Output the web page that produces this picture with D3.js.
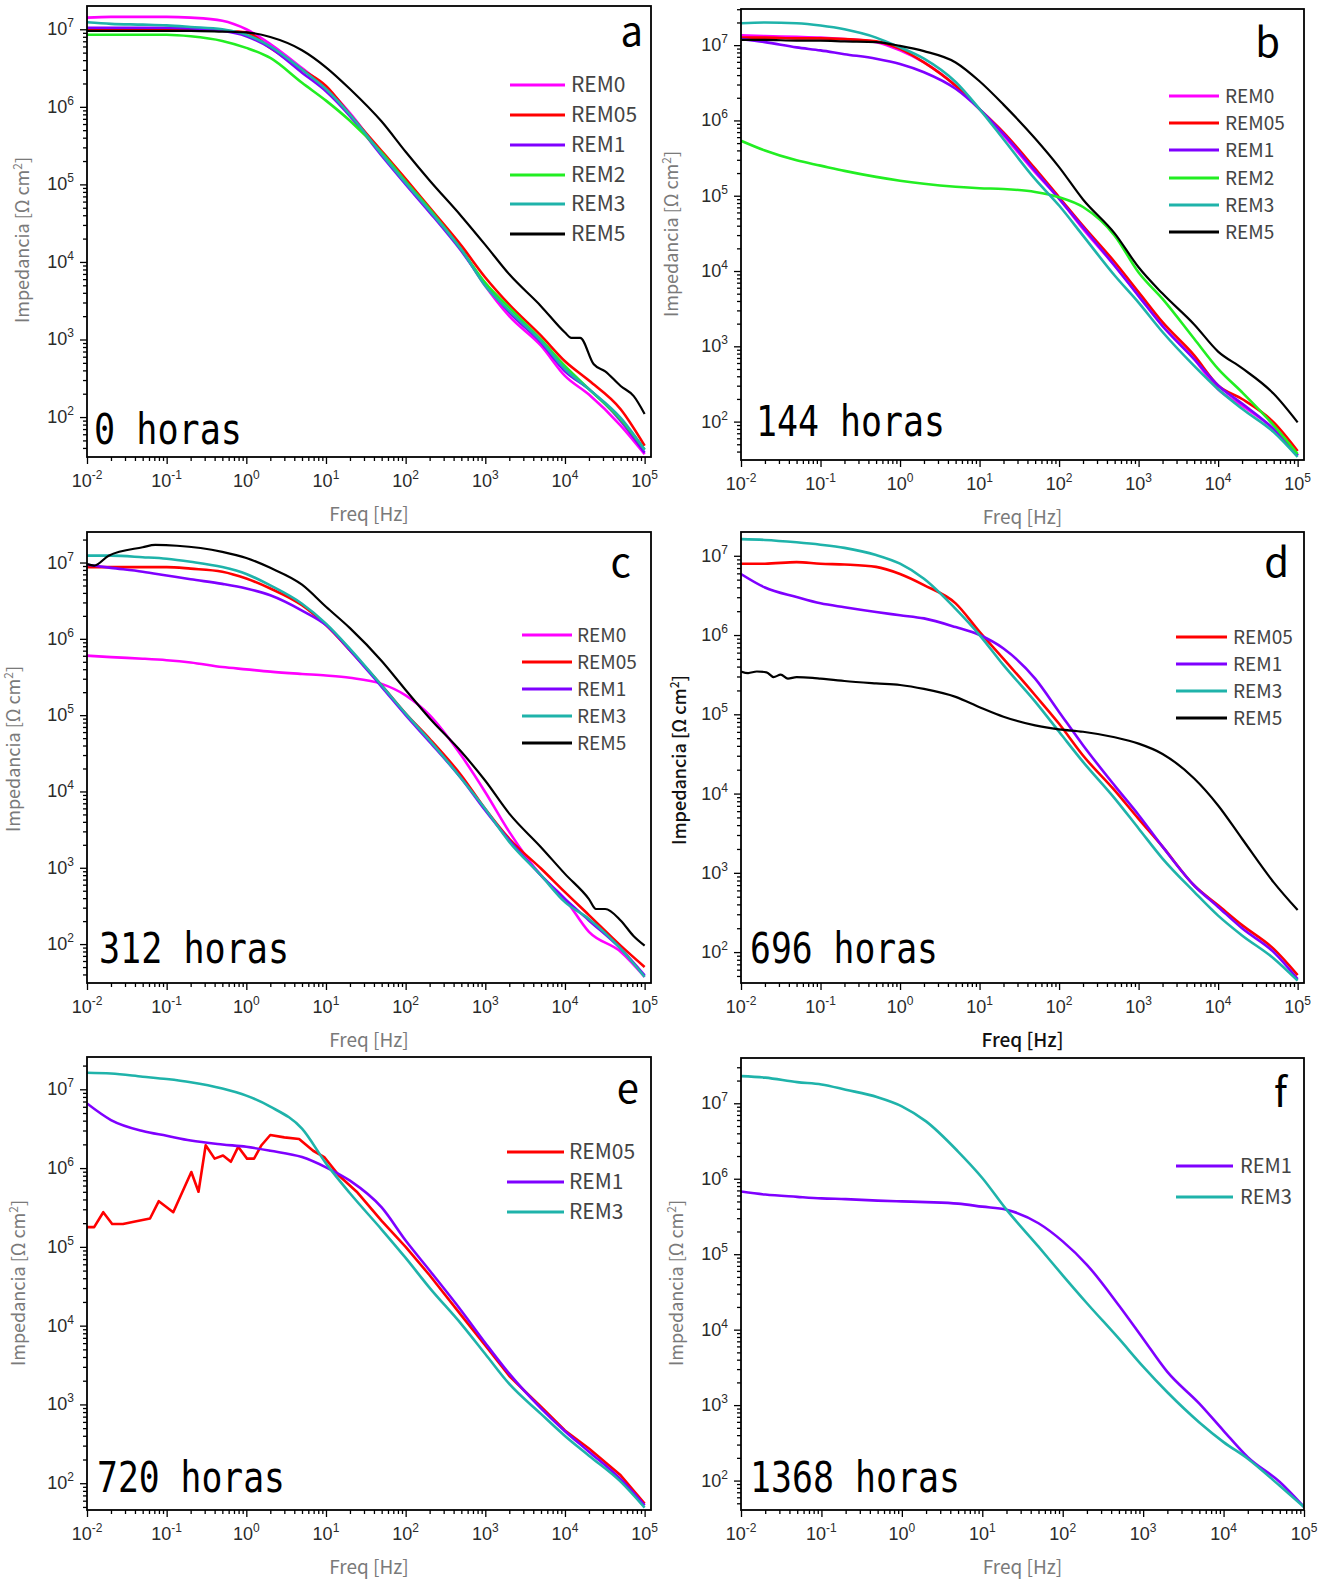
<!DOCTYPE html>
<html>
<head>
<meta charset="utf-8">
<script src="https://cdn.jsdelivr.net/npm/d3@7/dist/d3.min.js"></script>
<style>
  body { margin: 0; background: #fff; }
  text { font-family: "Noto Sans CJK JP", "Noto Sans", sans-serif; }
</style>
</head>
<body>
<svg id="fig" width="1330" height="1583"></svg>
<script>
// common frequency grid (Hz)
var freq = [0.01, 0.02, 0.05, 0.1, 0.2, 0.5, 1, 2, 5, 10, 20, 50, 100, 200, 500, 1e3, 2e3, 5e3, 1e4, 2e4, 5e4, 1e5];
// a few noisy traces were read on their own grid
var freqA5 = [0.01, 0.02, 0.05, 0.1, 0.2, 0.5, 1, 2, 5, 10, 20, 50, 100, 200, 500, 1e3, 2e3, 5e3, 1e4, 1.2e4, 1.55e4, 2.3e4, 3.2e4, 5e4, 7.3e4, 1e5];
var freqC5 = [0.01, 0.0123, 0.0187, 0.05, 0.072, 0.135, 0.5, 1, 2, 5, 10, 20, 50, 100, 200, 500, 1e3, 2e3, 5e3, 1e4, 2e4, 2.45e4, 3.2e4, 5e4, 7.2e4, 1e5];
var freqD5 = [0.01, 0.0123, 0.0158, 0.0209, 0.0257, 0.0316, 0.0389, 0.05, 0.0794, 0.1, 0.2, 0.5, 1, 2, 5, 10, 20, 50, 100, 200, 500, 1e3, 2e3, 5e3, 1e4, 2e4, 5e4, 1e5];
var freqE05 = [0.01, 0.0123, 0.016, 0.0207, 0.0283, 0.0387, 0.0618, 0.0797, 0.121, 0.204, 0.251, 0.309, 0.40, 0.51, 0.64, 0.79, 1.02, 1.25, 1.55, 2.0, 3.0, 4.6, 6.9, 9.5, 14.4, 24.3, 50, 100, 200, 500, 1e3, 2e3, 5e3, 1e4, 2e4, 5e4, 1e5];

// |Z| values, stored as log10(Ω cm²)
// 0 horas
var a_rem0  = [7.15, 7.16, 7.16, 7.16, 7.15, 7.11, 7.00, 6.81, 6.50, 6.25, 5.92, 5.39, 5.02, 4.66, 4.16, 3.69, 3.30, 2.92, 2.53, 2.29, 1.89, 1.52];
var a_rem05 = [7.00, 7.00, 7.00, 7.00, 6.99, 6.98, 6.96, 6.76, 6.48, 6.27, 5.90, 5.43, 5.07, 4.70, 4.21, 3.80, 3.45, 3.05, 2.72, 2.47, 2.10, 1.63];
var a_rem1  = [7.02, 7.02, 7.02, 7.02, 7.01, 6.98, 6.91, 6.76, 6.44, 6.20, 5.88, 5.37, 5.00, 4.64, 4.14, 3.71, 3.35, 2.96, 2.59, 2.36, 1.95, 1.54];
var a_rem2  = [6.93, 6.93, 6.93, 6.93, 6.91, 6.85, 6.76, 6.63, 6.31, 6.08, 5.82, 5.41, 5.04, 4.68, 4.16, 3.73, 3.41, 3.00, 2.66, 2.36, 1.97, 1.58];
var a_rem3  = [7.09, 7.07, 7.06, 7.05, 7.03, 7.00, 6.93, 6.78, 6.48, 6.23, 5.90, 5.39, 5.02, 4.66, 4.16, 3.69, 3.37, 2.98, 2.62, 2.36, 1.99, 1.58];
var a_rem5  = [6.98, 6.98, 6.98, 6.98, 6.98, 6.97, 6.96, 6.90, 6.73, 6.51, 6.23, 5.81, 5.42, 5.05, 4.59, 4.22, 3.84, 3.43, 3.09, 3.02, 3.02, 2.68, 2.59, 2.40, 2.27, 2.04];
// 144 horas
var b_rem0  = [7.13, 7.12, 7.11, 7.10, 7.08, 7.04, 6.93, 6.77, 6.46, 6.15, 5.80, 5.31, 4.96, 4.56, 4.07, 3.67, 3.27, 2.83, 2.43, 2.21, 1.90, 1.55];
var b_rem05 = [7.10, 7.10, 7.09, 7.09, 7.08, 7.05, 6.95, 6.77, 6.46, 6.15, 5.84, 5.36, 4.98, 4.60, 4.12, 3.72, 3.32, 2.88, 2.48, 2.30, 1.99, 1.61];
var b_rem1  = [7.08, 7.04, 6.97, 6.93, 6.88, 6.82, 6.75, 6.64, 6.42, 6.15, 5.82, 5.33, 4.96, 4.58, 4.07, 3.67, 3.27, 2.83, 2.48, 2.24, 1.90, 1.55];
var b_rem2  = [5.73, 5.60, 5.47, 5.40, 5.33, 5.25, 5.20, 5.16, 5.12, 5.10, 5.09, 5.05, 4.98, 4.85, 4.47, 3.98, 3.63, 3.10, 2.70, 2.39, 1.95, 1.57];
var b_rem3  = [7.29, 7.30, 7.29, 7.26, 7.21, 7.10, 6.97, 6.82, 6.51, 6.15, 5.75, 5.22, 4.87, 4.47, 3.94, 3.58, 3.19, 2.74, 2.43, 2.17, 1.86, 1.53];
var b_rem5  = [7.07, 7.07, 7.06, 7.06, 7.05, 7.04, 6.99, 6.92, 6.77, 6.52, 6.21, 5.76, 5.38, 4.95, 4.50, 4.05, 3.70, 3.29, 2.93, 2.71, 2.37, 1.99];
// 312 horas
var c_rem0  = [5.78, 5.76, 5.74, 5.72, 5.69, 5.63, 5.60, 5.57, 5.54, 5.52, 5.49, 5.41, 5.26, 5.00, 4.47, 3.99, 3.47, 2.90, 2.59, 2.16, 1.90, 1.57];
var c_rem05 = [6.94, 6.94, 6.94, 6.94, 6.92, 6.88, 6.79, 6.66, 6.44, 6.18, 5.85, 5.39, 5.02, 4.69, 4.21, 3.77, 3.38, 2.99, 2.68, 2.38, 1.98, 1.70];
var c_rem1  = [6.97, 6.93, 6.88, 6.83, 6.78, 6.72, 6.66, 6.57, 6.37, 6.18, 5.85, 5.37, 5.00, 4.65, 4.17, 3.75, 3.36, 2.90, 2.59, 2.31, 1.94, 1.59];
var c_rem3  = [7.09, 7.09, 7.07, 7.05, 7.01, 6.94, 6.85, 6.70, 6.46, 6.20, 5.87, 5.39, 5.02, 4.67, 4.17, 3.77, 3.34, 2.90, 2.55, 2.33, 1.94, 1.57];
var c_rem5  = [6.98, 6.96, 7.09, 7.20, 7.23, 7.22, 7.14, 7.06, 6.93, 6.71, 6.42, 6.14, 5.71, 5.33, 4.96, 4.52, 4.14, 3.71, 3.27, 2.92, 2.59, 2.46, 2.46, 2.31, 2.11, 1.98];
// 696 horas
var d_rem05 = [6.90, 6.90, 6.92, 6.90, 6.89, 6.86, 6.77, 6.63, 6.40, 6.04, 5.70, 5.24, 4.88, 4.48, 4.04, 3.68, 3.33, 2.84, 2.59, 2.34, 2.04, 1.71];
var d_rem1  = [6.77, 6.60, 6.48, 6.40, 6.35, 6.29, 6.25, 6.21, 6.10, 6.00, 5.83, 5.45, 5.03, 4.61, 4.10, 3.73, 3.33, 2.84, 2.57, 2.30, 2.00, 1.66];
var d_rem3  = [7.21, 7.20, 7.17, 7.14, 7.10, 7.01, 6.90, 6.71, 6.33, 6.00, 5.62, 5.16, 4.78, 4.40, 3.94, 3.56, 3.18, 2.76, 2.46, 2.21, 1.92, 1.64];
var d_rem5  = [5.54, 5.52, 5.54, 5.53, 5.47, 5.50, 5.45, 5.47, 5.46, 5.45, 5.42, 5.39, 5.37, 5.32, 5.22, 5.09, 4.97, 4.86, 4.81, 4.78, 4.71, 4.63, 4.50, 4.19, 3.85, 3.43, 2.88, 2.53];
// 720 horas
var e_rem05 = [5.25, 5.25, 5.44, 5.29, 5.29, 5.32, 5.36, 5.58, 5.44, 5.95, 5.70, 6.29, 6.12, 6.16, 6.08, 6.27, 6.12, 6.12, 6.29, 6.42, 6.39, 6.37, 6.22, 6.14, 5.91, 5.70, 5.33, 5.00, 4.64, 4.13, 3.75, 3.36, 2.97, 2.67, 2.44, 2.10, 1.74];
var e_rem1  = [6.82, 6.61, 6.47, 6.41, 6.35, 6.30, 6.27, 6.22, 6.14, 6.01, 5.84, 5.50, 5.08, 4.70, 4.19, 3.78, 3.39, 2.95, 2.66, 2.40, 2.05, 1.72];
var e_rem3  = [7.21, 7.20, 7.16, 7.13, 7.09, 7.01, 6.92, 6.78, 6.50, 6.06, 5.68, 5.22, 4.86, 4.48, 4.02, 3.64, 3.26, 2.88, 2.60, 2.35, 2.02, 1.69];
// 1368 horas
var f_rem1  = [5.83, 5.79, 5.76, 5.74, 5.73, 5.71, 5.70, 5.69, 5.67, 5.63, 5.59, 5.41, 5.17, 4.86, 4.32, 3.88, 3.44, 3.02, 2.66, 2.31, 1.98, 1.65];
var f_rem3  = [7.36, 7.34, 7.28, 7.25, 7.18, 7.08, 6.96, 6.76, 6.36, 6.01, 5.59, 5.10, 4.72, 4.35, 3.88, 3.51, 3.17, 2.77, 2.51, 2.29, 1.93, 1.65];

var panels = [
  { key: "a", hours: "0 horas", series: [["REM0", a_rem0, freq], ["REM05", a_rem05, freq], ["REM1", a_rem1, freq], ["REM2", a_rem2, freq], ["REM3", a_rem3, freq], ["REM5", a_rem5, freqA5]] },
  { key: "b", hours: "144 horas", series: [["REM0", b_rem0, freq], ["REM05", b_rem05, freq], ["REM1", b_rem1, freq], ["REM2", b_rem2, freq], ["REM3", b_rem3, freq], ["REM5", b_rem5, freq]] },
  { key: "c", hours: "312 horas", series: [["REM0", c_rem0, freq], ["REM05", c_rem05, freq], ["REM1", c_rem1, freq], ["REM3", c_rem3, freq], ["REM5", c_rem5, freqC5]] },
  { key: "d", hours: "696 horas", series: [["REM05", d_rem05, freq], ["REM1", d_rem1, freq], ["REM3", d_rem3, freq], ["REM5", d_rem5, freqD5]] },
  { key: "e", hours: "720 horas", series: [["REM05", e_rem05, freqE05, "linear"], ["REM1", e_rem1, freq], ["REM3", e_rem3, freq]] },
  { key: "f", hours: "1368 horas", series: [["REM1", f_rem1, freq], ["REM3", f_rem3, freq]] }
];

var colors = { REM0: "#ff00ff", REM05: "#ff0000", REM1: "#7f00ff", REM2: "#22ee22", REM3: "#1fb3aa", REM5: "#000000" };

// where each panel sits on the page (px), and its axis extents (log10)
var layout = {
  a: { x0: 87,  x1: 651,  y0: 6,    y1: 457,  xmax: 5.08, ymin: 1.485, ymax: 7.30, ylabX: 29,  ylabY: 240,  letter: [643, 46],    hrs: [94, 444, 148],   leg: [510, 565, 571, [85, 115, 145, 175, 204, 234], 21], titleCol: "#7a7a7a" },
  b: { x0: 741, x1: 1304, y0: 9,    y1: 460,  xmax: 5.08, ymin: 1.49,  ymax: 7.48, ylabX: 678, ylabY: 234,  letter: [1280, 57],   hrs: [756, 436, 189],  leg: [1169, 1219, 1225, [96, 123, 150, 178, 205, 232], 19], titleCol: "#7a7a7a" },
  c: { x0: 87,  x1: 651,  y0: 532,  y1: 983,  xmax: 5.08, ymin: 1.49,  ymax: 7.40, ylabX: 20,  ylabY: 749,  letter: [631, 577],   hrs: [99, 963, 190],   leg: [522, 572, 577, [635, 662, 689, 716, 743], 19], titleCol: "#7a7a7a" },
  d: { x0: 741, x1: 1304, y0: 532,  y1: 983,  xmax: 5.08, ymin: 1.61,  ymax: 7.30, ylabX: 686, ylabY: 760,  letter: [1289, 577],  hrs: [750, 963, 188],  leg: [1176, 1227, 1233, [637, 664, 691, 718], 19], titleCol: "#111" },
  e: { x0: 87,  x1: 651,  y0: 1057, y1: 1510, xmax: 5.08, ymin: 1.66,  ymax: 7.41, ylabX: 25,  ylabY: 1283, letter: [639, 1103],  hrs: [97, 1492, 188],  leg: [507, 564, 569, [1152, 1182, 1212], 21], titleCol: "#7a7a7a" },
  f: { x0: 741, x1: 1304, y0: 1058, y1: 1510, xmax: 5.00, ymin: 1.61,  ymax: 7.60, ylabX: 683, ylabY: 1283, letter: [1287, 1107], hrs: [750, 1492, 210], leg: [1176, 1233, 1240, [1166, 1197], 20], titleCol: "#7a7a7a" }
};

var svg = d3.select("#fig");
svg.append("rect").attr("width", 1330).attr("height", 1583).attr("fill", "#fff");

function pow10(v) { return Math.pow(10, v); }

function logTicks(lo, hi) {
  var major = [], minor = [];
  for (var k = Math.floor(lo); k <= Math.ceil(hi); k++) {
    if (k >= lo - 1e-9 && k <= hi + 1e-9) major.push(pow10(k));
    for (var m = 2; m <= 9; m++) {
      var v = Math.log10(m) + k;
      if (v >= lo && v <= hi) minor.push(m * pow10(k));
    }
  }
  return { major: major, minor: minor };
}

function powerLabel(t, v) {
  t.append("tspan").text("10");
  t.append("tspan").attr("dy", -8).style("font-size", "12px").text(Math.round(Math.log10(v)));
}

function drawPanel(p) {
  var L = layout[p.key];
  var x = d3.scaleLog().domain([0.01, pow10(L.xmax)]).range([L.x0, L.x1]);
  var y = d3.scaleLog().domain([pow10(L.ymin), pow10(L.ymax)]).range([L.y1, L.y0]);
  var g = svg.append("g").attr("class", "panel-" + p.key);

  g.append("clipPath").attr("id", "clip-" + p.key)
    .append("rect").attr("x", L.x0).attr("y", L.y0)
    .attr("width", L.x1 - L.x0).attr("height", L.y1 - L.y0);

  // ticks, outward on bottom and left
  var xt = logTicks(-2, L.xmax), yt = logTicks(L.ymin, L.ymax);
  [[xt.minor, 4], [xt.major, 7]].forEach(function(t) {
    var ax = g.append("g").attr("transform", "translate(0," + L.y1 + ")")
      .call(d3.axisBottom(x).tickValues(t[0]).tickSize(t[1]).tickFormat(""));
    ax.select(".domain").remove();
    ax.selectAll("line").attr("stroke", "#000").attr("stroke-width", 1.3);
  });
  [[yt.minor, 4], [yt.major, 7]].forEach(function(t) {
    var ax = g.append("g").attr("transform", "translate(" + L.x0 + ",0)")
      .call(d3.axisLeft(y).tickValues(t[0]).tickSize(t[1]).tickFormat(""));
    ax.select(".domain").remove();
    ax.selectAll("line").attr("stroke", "#000").attr("stroke-width", 1.3);
  });

  // tick labels 10^n
  xt.major.forEach(function(v) {
    var t = g.append("text").attr("x", x(v)).attr("y", L.y1 + 30)
      .attr("text-anchor", "middle").attr("fill", "#2a2a2a")
      .style("font-family", "'Liberation Sans', Arial, sans-serif").style("font-size", "18px");
    powerLabel(t, v);
  });
  yt.major.forEach(function(v) {
    var t = g.append("text").attr("x", L.x0 - 13).attr("y", y(v) + 6)
      .attr("text-anchor", "end").attr("fill", "#2a2a2a")
      .style("font-family", "'Liberation Sans', Arial, sans-serif").style("font-size", "18px");
    powerLabel(t, v);
  });

  // curves
  var lines = g.append("g").attr("clip-path", "url(#clip-" + p.key + ")");
  p.series.forEach(function(s) {
    var line = d3.line()
      .x(function(d) { return x(d[0]); })
      .y(function(d) { return y(pow10(d[1])); })
      .curve(s[3] === "linear" ? d3.curveLinear : d3.curveMonotoneX);
    var pts = s[1].map(function(z, i) { return [s[2][i], z]; });
    lines.append("path").datum(pts).attr("d", line)
      .attr("fill", "none").attr("stroke", colors[s[0]])
      .attr("stroke-width", s[0] === "REM5" ? 2.2 : 2.6)
      .attr("stroke-linejoin", "round");
  });

  // frame
  g.append("rect").attr("x", L.x0).attr("y", L.y0)
    .attr("width", L.x1 - L.x0).attr("height", L.y1 - L.y0)
    .attr("fill", "none").attr("stroke", "#000").attr("stroke-width", 1.8);

  // legend
  var lg = L.leg;
  p.series.forEach(function(s, i) {
    g.append("line").attr("x1", lg[0]).attr("x2", lg[1]).attr("y1", lg[3][i]).attr("y2", lg[3][i])
      .attr("stroke", colors[s[0]]).attr("stroke-width", 3);
    g.append("text").attr("x", lg[2]).attr("y", lg[3][i] + 7)
      .attr("fill", "#444").style("font-size", lg[4] + "px").text(s[0]);
  });

  // axis titles
  var tw = p.key === "d" ? 500 : 400;
  g.append("text").attr("x", (L.x0 + L.x1) / 2).attr("y", L.y1 + 64)
    .attr("text-anchor", "middle").attr("fill", L.titleCol)
    .style("font-size", "19px").style("font-weight", tw).text("Freq [Hz]");
  var yl = g.append("text").attr("transform", "translate(" + L.ylabX + "," + L.ylabY + ") rotate(-90)")
    .attr("text-anchor", "middle").attr("fill", L.titleCol)
    .style("font-size", "18px").style("font-weight", tw);
  yl.append("tspan").text("Impedancia [Ω cm");
  yl.append("tspan").attr("dy", -7).style("font-size", "12px").text("2");
  yl.append("tspan").attr("dy", 7).text("]");

  // panel letter and time label
  g.append("text").attr("x", L.letter[0]).attr("y", L.letter[1])
    .attr("text-anchor", "end").attr("fill", "#000")
    .style("font-size", "40px").text(p.key);
  g.append("text").attr("x", L.hrs[0]).attr("y", L.hrs[1])
    .attr("textLength", L.hrs[2]).attr("lengthAdjust", "spacingAndGlyphs")
    .attr("fill", "#000").style("font-family", "'DejaVu Sans Mono', monospace")
    .style("font-size", "42px").text(p.hours);
}

panels.forEach(drawPanel);
</script>
</body>
</html>
